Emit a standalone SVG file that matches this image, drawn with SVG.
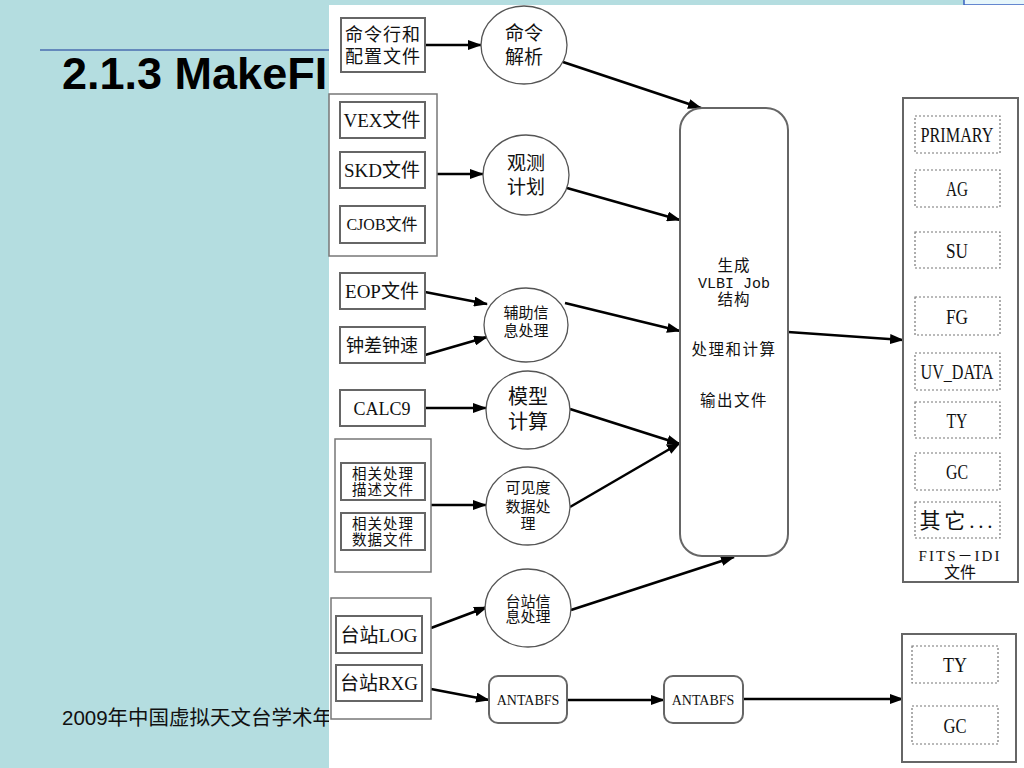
<svg xmlns="http://www.w3.org/2000/svg" width="1024" height="768" viewBox="0 0 1024 768">
<defs>
<marker id="ah" markerUnits="userSpaceOnUse" markerWidth="14" markerHeight="10" refX="13" refY="5" orient="auto">
<path d="M0,0 L14,5 L0,10 z" fill="#000"/>
</marker>
<style>
.t{font-family:"Liberation Serif","Noto Sans CJK SC",serif;fill:#111;text-anchor:middle}
.m{font-family:"Liberation Mono",monospace;fill:#111;text-anchor:middle}
.box{fill:#fff;stroke:#666;stroke-width:2}
.grp{fill:#fff;stroke:#777;stroke-width:1.5}
.cir{fill:#fff;stroke:#555;stroke-width:1.3}
.dot{fill:#fff;stroke:#777;stroke-width:1.2;stroke-dasharray:2 2}
.ln{fill:none;stroke:#000;stroke-width:2.6;marker-end:url(#ah)}
</style>
</defs>
<rect x="0" y="0" width="1024" height="768" fill="#b4dde0"/>
<line x1="40" y1="50" x2="330" y2="50" stroke="#4a6cb0" stroke-width="1.5"/>
<text x="62" y="89" font-family="Liberation Sans, Arial, sans-serif" font-weight="bold" font-size="45" fill="#000">2.1.3 MakeFI</text>
<text x="62" y="725" font-family="Liberation Sans,'Noto Sans CJK SC',sans-serif" font-size="20.5" fill="#111">2009年中国虚拟天文台学术年</text>
<rect x="964" y="-2" width="62" height="7" fill="#e6f6fb" stroke="#3a62c0" stroke-width="1.5"/>
<rect x="329" y="5" width="695" height="763" fill="#fff"/>

<g id="connectors">
<line class="ln" x1="425" y1="45" x2="481" y2="45"/>
<line class="ln" x1="563" y1="62" x2="701" y2="108"/>
<line class="ln" x1="437" y1="174" x2="483" y2="174"/>
<line class="ln" x1="567" y1="188" x2="680" y2="220"/>
<line class="ln" x1="425" y1="292" x2="487" y2="304"/>
<line class="ln" x1="425" y1="355" x2="487" y2="337"/>
<line class="ln" x1="565" y1="303" x2="680" y2="331"/>
<line class="ln" x1="425" y1="408" x2="486" y2="408"/>
<line class="ln" x1="570" y1="409" x2="680" y2="444"/>
<line class="ln" x1="431" y1="505" x2="486" y2="505"/>
<line class="ln" x1="570" y1="507" x2="680" y2="443"/>
<line class="ln" x1="431" y1="628" x2="487" y2="607"/>
<line class="ln" x1="571" y1="610" x2="734" y2="557"/>
<line class="ln" x1="431" y1="689" x2="489" y2="700"/>
<line class="ln" x1="567" y1="700" x2="664" y2="700"/>
<line class="ln" x1="743" y1="699" x2="903" y2="699"/>
<line class="ln" x1="788" y1="332" x2="903" y2="340"/>
</g>

<g id="n-cmdfile"><rect class="box" x="341" y="18" width="84" height="54"/>
<text class="t" x="383" y="41" font-size="18" letter-spacing="1">命令行和</text>
<text class="t" x="383" y="63" font-size="18" letter-spacing="1">配置文件</text></g>
<g id="n-cmdparse"><ellipse class="cir" cx="524" cy="45" rx="43" ry="39"/>
<text class="t" x="524" y="40" font-size="19">命令</text>
<text class="t" x="524" y="64" font-size="19">解析</text></g>

<g id="n-grp1"><rect class="grp" x="329" y="94" width="108" height="162"/>
<rect class="box" x="340" y="102" width="85" height="36"/>
<text class="t" x="382" y="127" font-size="19">VEX文件</text>
<rect class="box" x="340" y="152" width="85" height="36"/>
<text class="t" x="382" y="177" font-size="19">SKD文件</text>
<rect class="box" x="340" y="206" width="85" height="37"/>
<text class="t" x="382" y="230" font-size="16">CJOB文件</text></g>
<g id="n-plan"><ellipse class="cir" cx="526" cy="175" rx="43" ry="40"/>
<text class="t" x="526" y="170" font-size="19">观测</text>
<text class="t" x="526" y="194" font-size="19">计划</text></g>

<g id="n-eop"><rect class="box" x="340" y="273" width="85" height="36"/>
<text class="t" x="382" y="298" font-size="19">EOP文件</text></g>
<g id="n-clock"><rect class="box" x="340" y="327" width="85" height="36"/>
<text class="t" x="382" y="352" font-size="18">钟差钟速</text></g>
<g id="n-aux"><ellipse class="cir" cx="526" cy="325" rx="42" ry="37"/>
<text class="t" x="526" y="318" font-size="15">辅助信</text>
<text class="t" x="526" y="336" font-size="15">息处理</text></g>

<g id="n-calc9"><rect class="box" x="340" y="390" width="85" height="36"/>
<text class="t" x="382" y="415" font-size="18">CALC9</text></g>
<g id="n-model"><ellipse class="cir" cx="528" cy="410" rx="42" ry="39"/>
<text class="t" x="528" y="404" font-size="20">模型</text>
<text class="t" x="528" y="429" font-size="20">计算</text></g>

<g id="n-grp2"><rect class="grp" x="335" y="439" width="96" height="133"/>
<rect class="box" x="341" y="463" width="84" height="37"/>
<text class="t" x="383" y="479" font-size="14.5" letter-spacing="1">相关处理</text>
<text class="t" x="383" y="495" font-size="14.5" letter-spacing="1">描述文件</text>
<rect class="box" x="341" y="513" width="84" height="37"/>
<text class="t" x="383" y="529" font-size="14.5" letter-spacing="1">相关处理</text>
<text class="t" x="383" y="545" font-size="14.5" letter-spacing="1">数据文件</text></g>
<g id="n-vis"><ellipse class="cir" cx="528" cy="506" rx="42" ry="39"/>
<text class="t" x="528" y="493" font-size="15">可见度</text>
<text class="t" x="528" y="512" font-size="15">数据处</text>
<text class="t" x="528" y="529" font-size="15">理</text></g>

<g id="n-grp3"><rect class="grp" x="331" y="598" width="100" height="121"/>
<rect class="box" x="336" y="616" width="86" height="37"/>
<text class="t" x="379" y="642" font-size="19">台站LOG</text>
<rect class="box" x="336" y="665" width="86" height="36"/>
<text class="t" x="379" y="690" font-size="19">台站RXG</text></g>
<g id="n-station"><ellipse class="cir" cx="528" cy="608" rx="43" ry="39"/>
<text class="t" x="528" y="607" font-size="15">台站信</text>
<text class="t" x="528" y="622" font-size="15">息处理</text></g>

<g id="n-antabfs1"><rect class="box" x="489" y="676" width="78" height="47" rx="9" stroke-width="1.5" stroke="#444"/>
<text class="t" x="528" y="705" font-size="14">ANTABFS</text></g>
<g id="n-antabfs2"><rect class="box" x="664" y="676" width="79" height="47" rx="9" stroke-width="1.5" stroke="#444"/>
<text class="t" x="703" y="705" font-size="14">ANTABFS</text></g>

<g id="n-job"><rect class="box" x="680" y="108" width="108" height="448" rx="22" stroke="#555" stroke-width="1.5"/>
<text class="t" x="734" y="271" font-size="15.5" letter-spacing="1">生成</text>
<text class="m" x="734" y="288" font-size="15" xml:space="preserve">VLBI Job</text>
<text class="t" x="734" y="305" font-size="15.5" letter-spacing="1">结构</text>
<text class="t" x="734" y="355" font-size="15.5" letter-spacing="1.5">处理和计算</text>
<text class="t" x="734" y="406" font-size="15.5" letter-spacing="1.5">输出文件</text></g>

<g id="n-fits"><rect class="box" x="903" y="98" width="115" height="484" stroke="#666"/>
<rect class="dot" x="915" y="116" width="85" height="37"/>
<text class="t" x="957" y="142" font-size="22" textLength="73" lengthAdjust="spacingAndGlyphs">PRIMARY</text>
<rect class="dot" x="915" y="170" width="85" height="37"/>
<text class="t" x="957" y="196" font-size="22" textLength="22" lengthAdjust="spacingAndGlyphs">AG</text>
<rect class="dot" x="915" y="232" width="85" height="36"/>
<text class="t" x="957" y="258" font-size="22" textLength="22" lengthAdjust="spacingAndGlyphs">SU</text>
<rect class="dot" x="915" y="297" width="85" height="38"/>
<text class="t" x="957" y="324" font-size="22" textLength="22" lengthAdjust="spacingAndGlyphs">FG</text>
<rect class="dot" x="915" y="353" width="85" height="37"/>
<text class="t" x="957" y="379" font-size="22" textLength="73" lengthAdjust="spacingAndGlyphs">UV_DATA</text>
<rect class="dot" x="915" y="402" width="85" height="36"/>
<text class="t" x="957" y="428" font-size="22" textLength="21" lengthAdjust="spacingAndGlyphs">TY</text>
<rect class="dot" x="915" y="453" width="85" height="37"/>
<text class="t" x="957" y="479" font-size="22" textLength="22" lengthAdjust="spacingAndGlyphs">GC</text>
<rect class="dot" x="915" y="502" width="85" height="36"/>
<text class="t" x="956" y="528" font-size="21" textLength="73" lengthAdjust="spacing">其它...</text>
<text class="t" x="959" y="561" font-size="15" textLength="81" lengthAdjust="spacing">FITS－IDI</text>
<text class="t" x="960" y="578" font-size="16">文件</text></g>

<g id="n-tygc"><rect class="box" x="902" y="634" width="114" height="128"/>
<rect class="dot" x="912" y="646" width="86" height="37"/>
<text class="t" x="955" y="672" font-size="22" textLength="24" lengthAdjust="spacingAndGlyphs">TY</text>
<rect class="dot" x="912" y="706" width="86" height="38"/>
<text class="t" x="955" y="733" font-size="22" textLength="23" lengthAdjust="spacingAndGlyphs">GC</text></g>
</svg>
